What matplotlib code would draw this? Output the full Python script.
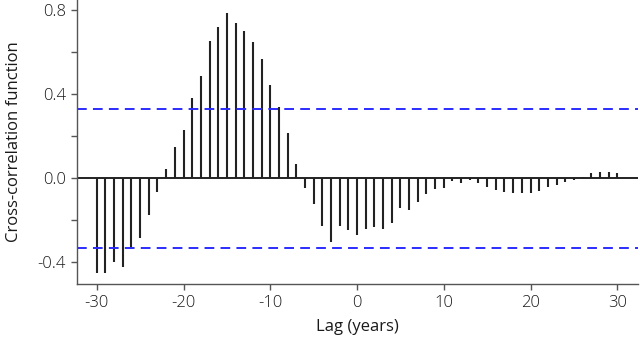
import numpy as np
import matplotlib
matplotlib.use('Agg')
import matplotlib.pyplot as plt

# lags and cross-correlation values
lags = np.arange(-30, 31)
ccf = [
    -0.452, -0.452, -0.400, -0.424, -0.333, -0.284, -0.175, -0.064, 0.043, 0.150,
    0.230, 0.382, 0.487, 0.652, 0.719, 0.789, 0.738, 0.700, 0.649, 0.567,
    0.443, 0.338, 0.214, 0.068, -0.045, -0.122, -0.226, -0.303, -0.227, -0.246,
    -0.270, -0.241, -0.230, -0.243, -0.214, -0.143, -0.149, -0.113, -0.073, -0.052,
    -0.048, -0.013, -0.021, -0.010, -0.022, -0.040, -0.057, -0.065, -0.068, -0.071,
    -0.068, -0.060, -0.043, -0.030, -0.018, -0.008, 0.008, 0.024, 0.030, 0.029,
    0.025,
]
conf_level = 0.33

y_ticks = [-0.4, -0.2, 0.0, 0.2, 0.4, 0.6, 0.8]
y_labels = ['-0.4', '', '0.0', '', '0.4', '', '0.8']
x_ticks = [-30, -20, -10, 0, 10, 20, 30]

plt.rcParams['font.family'] = ['Open Sans', 'DejaVu Sans']
plt.rcParams['font.weight'] = 'light'

fig = plt.figure(figsize=(6.4, 3.42), dpi=100)
ax = fig.add_axes([0.12, 0.17, 0.877, 0.83])

ax.vlines(lags, 0, ccf, color='#222222', linewidth=1.5)
ax.axhline(0, color='#222222', linewidth=1.4)
for c in (conf_level, -conf_level):
    ax.axhline(c, color='#2b2bff', linewidth=1.4, dashes=(5, 3.2))

ax.set_xlim(-32.3, 32.4)
ax.set_ylim(-0.502, 0.849)
ax.set_xticks(x_ticks)
ax.set_xticklabels([str(t) for t in x_ticks])
ax.set_yticks(y_ticks)
ax.set_yticklabels(y_labels)

for side in ('top', 'right'):
    ax.spines[side].set_visible(False)
for side in ('left', 'bottom'):
    ax.spines[side].set_color('#555555')
    ax.spines[side].set_linewidth(1.0)
ax.tick_params(colors='#555555', labelcolor='#1a1a1a', labelsize=12,
               length=4.5, width=1.0)

ax.set_xlabel('Lag (years)', fontsize=12, color='#1a1a1a', labelpad=6)
ax.set_ylabel('Cross-correlation function', fontsize=12, color='#1a1a1a', labelpad=11)

fig.savefig('out.png', dpi=100)
